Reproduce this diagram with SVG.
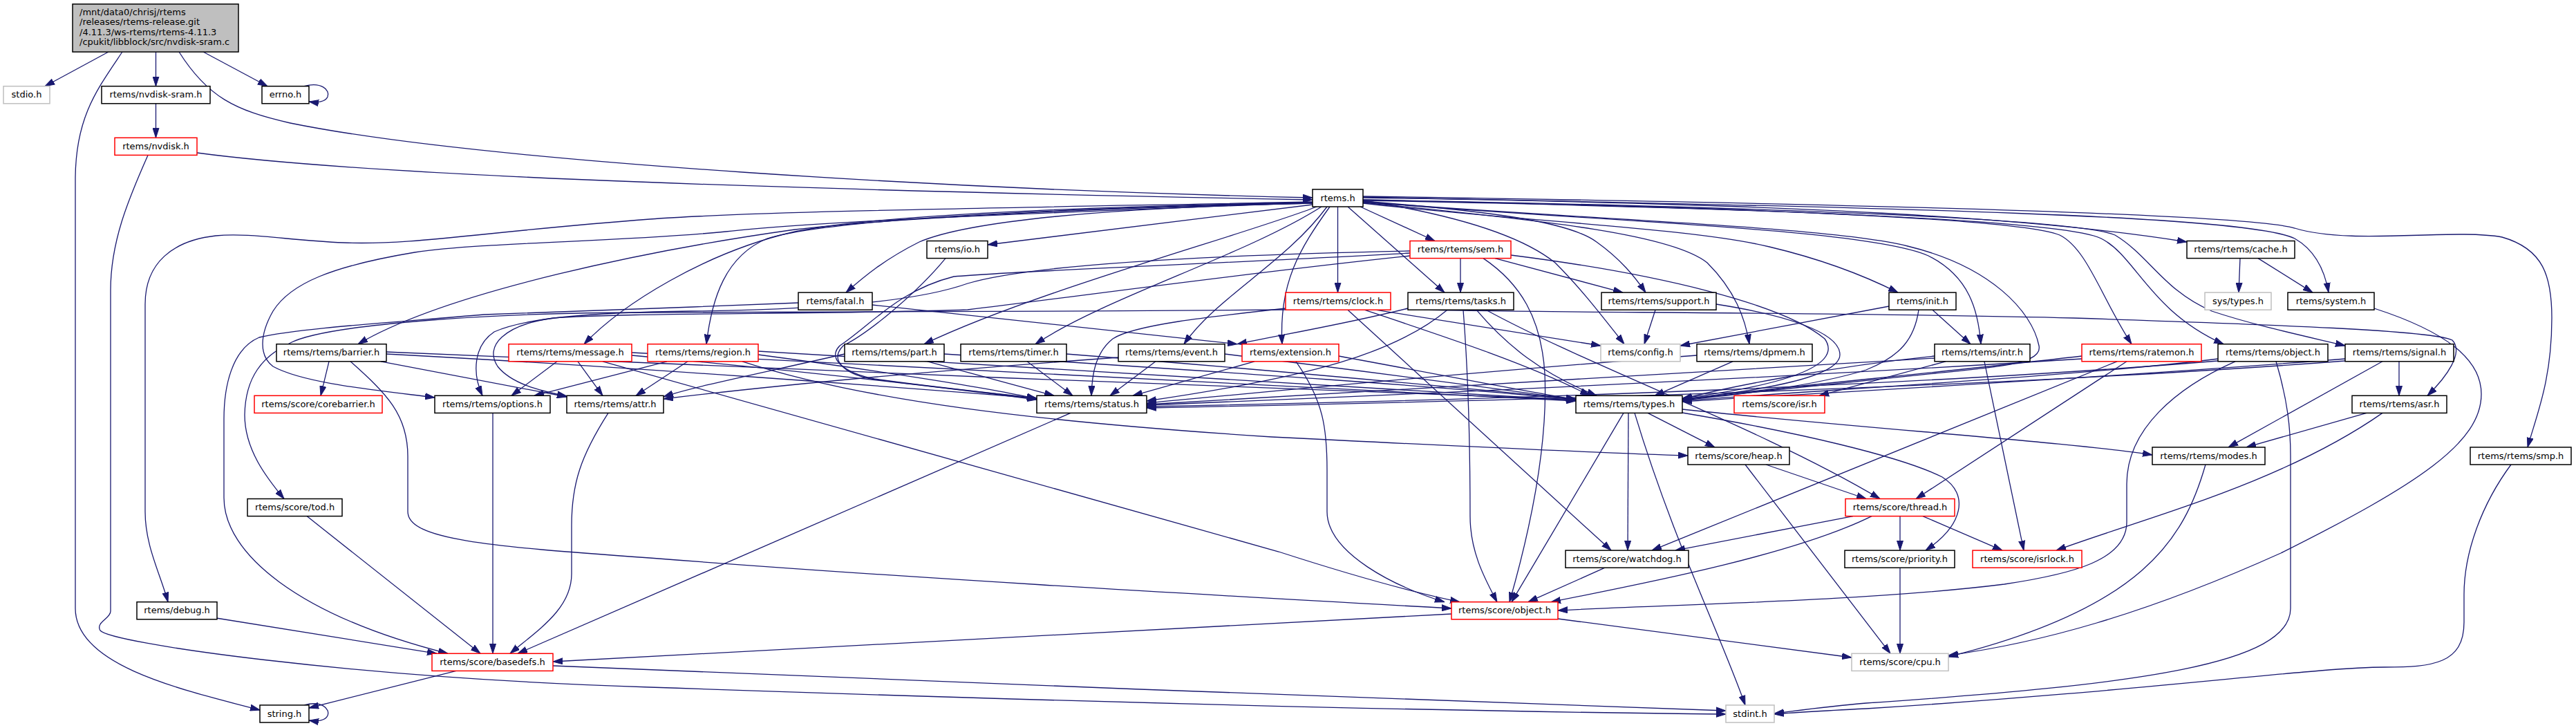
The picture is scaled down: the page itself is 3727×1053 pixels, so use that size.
<svg xmlns="http://www.w3.org/2000/svg" width="3727" height="1053" viewBox="0 0 3727 1053">
<defs>
<style>
.n rect{fill:#fff;stroke:#000;stroke-width:1.5}
.g rect{stroke:#bfbfbf}
.r rect{stroke:#ff0000}
text{font-family:"DejaVu Sans","Liberation Sans",sans-serif;font-size:13px;fill:#000;text-anchor:middle}
.e path{fill:none;stroke:#191970;stroke-width:1.3;marker-end:url(#a)}
</style>
<marker id="a" viewBox="0 0 14 10" refX="14" refY="5" markerWidth="14" markerHeight="10" markerUnits="userSpaceOnUse" orient="auto"><path d="M0,0.5 L14,5 L0,9.5 Z" fill="#191970" stroke="#191970" stroke-width="1"/></marker>
</defs>
<rect width="3727" height="1053" fill="#fff"/>
<g id="edges" class="e">
<path d="M157,75 L65,124.7"/>
<path d="M225.5,75 L225.5,124.7"/>
<path d="M294,75 L387,124.7"/>
<path d="M259,75 C300,140 340,160 420,178 C700,235 1400,275 1899,286"/>
<path d="M177,75 C140,130 109,170 109,260 L109,880 C109,960 250,995 376,1027"/>
<path d="M440,124.7 C465,118 478,130 474,140 C471,147 460,149 447,147"/>
<path d="M225.5,150 L225.5,199.3"/>
<path d="M285,221 C500,250 1000,272 1899,289"/>
<path d="M214,224.4 C185,290 160,350 160,420 L160,884 C160,895 138,900 145,912 C160,930 500,980 940,994 C1400,1010 2000,1028 2497,1033"/>
<path d="M1899,292 C1500,300 1100,305 940,317 C700,335 600,355 497,351 C420,348 360,336 312,341 C250,348 210,380 210,440 L210,740 C210,790 232,830 243,870.7"/>
<path d="M1899,293 C1600,305 1200,318 1050,335 C900,350 700,350 600,365 C480,385 420,410 395,450 C375,485 375,515 395,530 C440,555 550,565 629,575"/>
<path d="M1899,294 C1600,300 1300,315 1150,332 C950,360 650,420 518,497.7"/>
<path d="M1899,293 C1500,300 1250,315 1150,335 C1020,365 900,440 845,497.7"/>
<path d="M1899,293 C1500,302 1200,318 1110,345 C1050,370 1030,430 1022,497.7"/>
<path d="M1899,294 C1600,300 1400,320 1330,350 C1280,375 1250,400 1224,423.1"/>
<path d="M1899,296 L1429,354"/>
<path d="M1905,299 C1800,340 1500,420 1337,497.7"/>
<path d="M1912,299 C1800,370 1600,430 1498,497.7"/>
<path d="M1920,299 C1860,380 1760,430 1713,497.7"/>
<path d="M1924,299 C1880,360 1850,410 1855,497.7"/>
<path d="M1935.5,299 L1935.5,423.1"/>
<path d="M1950,299 L2090,423.1"/>
<path d="M1968,299 L2076,348.5"/>
<path d="M1972,290 C2100,310 2200,340 2250,380 C2290,420 2320,460 2350,497.7"/>
<path d="M1972,291 C2150,305 2270,320 2310,350 C2345,375 2365,400 2381,423.1"/>
<path d="M1972,293 C2250,320 2420,340 2470,380 C2510,420 2525,460 2531,497.7"/>
<path d="M1972,294 C2200,320 2450,330 2560,357 C2640,376 2700,400 2746,423.1"/>
<path d="M1972,292 C2300,320 2700,330 2790,370 C2850,400 2862,450 2866,497.7"/>
<path d="M1972,289 C2500,300 2920,315 2980,340 C3020,360 3040,430 3084,497.7"/>
<path d="M1972,290 C2600,302 2990,320 3040,345 C3090,370 3110,450 3217,497.7"/>
<path d="M1972,289 C2600,300 3010,318 3060,340 C3110,370 3130,420 3200,450 C3260,470 3330,485 3393,500"/>
<path d="M1972,286 C2600,295 2950,315 3164,350"/>
<path d="M1972,285 C2700,300 3250,310 3320,345 C3355,365 3365,400 3369,423.1"/>
<path d="M1972,284 C2700,295 3250,310 3320,330 C3400,355 3550,330 3620,343 C3680,360 3692,400 3692,460 C3692,550 3670,600 3657,646.9"/>
<path d="M1972,292 C2300,318 2650,328 2760,356 C2880,385 2940,450 2950,500 C2955,525 2900,530 2800,540 C2650,555 2500,570 2434,578"/>
<path d="M2113,373.6 L2113,423.1"/>
<path d="M2163,373.6 L2348,423.1"/>
<path d="M2146,373.6 C2200,410 2230,460 2235,540 C2240,650 2210,780 2184,870.7"/>
<path d="M2186,369 C2400,396 2580,440 2640,490 C2665,525 2600,555 2434,576"/>
<path d="M2040,363 C1800,368 1500,380 1400,410 C1330,435 1200,448 1000,450 C850,452 760,460 715,480 C685,500 683,540 698,572.3"/>
<path d="M2040,370 C1800,395 1550,430 1400,448 C1200,455 900,452 800,460 C730,470 700,500 720,530 C740,555 780,565 820,573"/>
<path d="M2040,366 C1800,380 1500,390 1380,400 C1300,420 1260,470 1215,500 C1195,520 1225,540 1265,548 C1350,560 1450,570 1500,576"/>
<path d="M1860,446 C1750,458 1640,470 1610,490 C1585,510 1580,540 1579,572.3"/>
<path d="M1860,448 C1500,451 1000,452 940,452 C700,452 470,470 420,496 C380,515 355,545 354,600 C354,650 385,690 411,721.5"/>
<path d="M1950,448.2 L2331,796.1"/>
<path d="M1974,448.2 C2100,490 2220,530 2300,572.3"/>
<path d="M1990,448.2 L2316,500"/>
<path d="M2094,448.2 C2020,510 1900,545 1659,580"/>
<path d="M2037,446 C1950,468 1850,485 1790,497.7"/>
<path d="M2117,448.2 C2125,550 2127,650 2127,747 C2127,800 2150,840 2166,870.7"/>
<path d="M2060,448.2 C2200,452 2700,452 3000,460 C3300,470 3520,478 3548,492 C3565,510 3540,545 3512,572.3"/>
<path d="M2136,448.2 C2180,500 2230,540 2310,572.3"/>
<path d="M2150,448.2 C2300,530 2550,620 2720,721.5"/>
<path d="M1155,438 C1000,445 800,450 700,455 C560,467 430,475 375,488 C335,505 324,560 324,606 L324,720 C324,800 430,890 648,945.3"/>
<path d="M2395,448.2 L2379,497.7"/>
<path d="M2483,440 C2580,455 2662,480 2662,513 C2662,545 2550,565 2434,577"/>
<path d="M2733,443 L2431,500"/>
<path d="M2796,448.2 L2851,497.7"/>
<path d="M2776,448.2 C2770,490 2750,515 2700,535 C2620,560 2500,572 2434,579"/>
<path d="M3241,373.6 L3239,423.1"/>
<path d="M3267,373.6 L3346,423.1"/>
<path d="M3435,446 C3540,480 3590,520 3590,570 C3590,640 3500,700 3300,800 C3100,890 2950,930 2819,948"/>
<path d="M1262,441 L1790,497.7"/>
<path d="M1368,373.6 C1330,420 1260,480 1220,500 C1200,520 1220,540 1260,548 C1350,560 1450,570 1500,577"/>
<path d="M476,522.8 L464,572.3"/>
<path d="M551,522.8 L820,574"/>
<path d="M507,522.8 C560,570 590,600 590,660 L590,740 C590,780 700,790 940,807 C1300,835 1700,858 2100,880"/>
<path d="M559,509 C1000,530 1800,560 2280,578"/>
<path d="M559,512 C900,530 1300,560 1500,576"/>
<path d="M806,522.8 L740,572.3"/>
<path d="M836,522.8 L872,572.3"/>
<path d="M872,522.8 L1850,798 C1980,840 2060,860 2112,870.7"/>
<path d="M914,510 C1400,535 1900,560 2280,580"/>
<path d="M914,514 C1200,540 1400,565 1500,578"/>
<path d="M965,522.8 L773,572.3"/>
<path d="M995,522.8 L920,572.3"/>
<path d="M1074,522.8 C1250,580 1500,610 1840,632 C2100,645 2300,655 2442,659"/>
<path d="M1097,508 C1600,535 2000,560 2280,579"/>
<path d="M1097,513 C1300,540 1450,565 1500,577"/>
<path d="M1342,522.8 L1525,572.3"/>
<path d="M1222,512 C1100,540 1000,560 960,574"/>
<path d="M1366,512 C1800,540 2100,560 2280,578"/>
<path d="M1486,522.8 L1552,572.3"/>
<path d="M1543,512 C1900,540 2100,560 2280,577"/>
<path d="M1672,522.8 L1606,572.3"/>
<path d="M1618,517 C1300,540 1100,560 960,577"/>
<path d="M1772,512 C2000,540 2150,560 2280,578"/>
<path d="M1815,522.8 L1639,572.3"/>
<path d="M1875,522.8 C1915,580 1920,620 1920,680 L1920,740 C1920,800 2020,850 2090,870.7"/>
<path d="M1937,515 C2100,545 2200,565 2280,578"/>
<path d="M2507,522.8 L2394,572.3"/>
<path d="M2455,514 C2100,540 1800,570 1659,583"/>
<path d="M2871,522.8 L2928,796.1"/>
<path d="M2815,522.8 L2632,572.3"/>
<path d="M2799,515 C2650,530 2500,560 2434,577"/>
<path d="M2799,518 C2400,540 2000,565 1659,585"/>
<path d="M3077,522.8 L2772,721.5"/>
<path d="M3063,522.8 L2390,796.1"/>
<path d="M3012,515 C2800,540 2550,562 2434,578"/>
<path d="M3012,519 C2600,545 2100,568 1659,586"/>
<path d="M3234,522.8 C3150,560 3077,620 3077,700 L3077,755 C3077,810 3000,830 2900,845 C2700,870 2400,875 2254,883"/>
<path d="M3293,522.8 C3310,580 3314,620 3314,660 L3314,880 C3314,960 3100,990 2700,1017 C2640,1022 2600,1028 2567,1032"/>
<path d="M3209,519 C3000,545 2600,566 2434,580"/>
<path d="M3209,522 C2800,556 2200,578 1659,588"/>
<path d="M3471,522.8 L3471,572.3"/>
<path d="M3447,522.8 L3224,646.9"/>
<path d="M3393,519 C3000,550 2600,570 2434,581"/>
<path d="M3393,522 C2900,560 2200,580 1659,590"/>
<path d="M3424,597.4 L3250,646.9"/>
<path d="M3447,597.4 C3300,700 3100,750 2975,796.1"/>
<path d="M2384,597.4 L2481,646.9"/>
<path d="M2356,597.4 L2355,796.1"/>
<path d="M2349,597.4 L2187,870.7"/>
<path d="M2365,597.4 C2420,780 2490,920 2525,1019.9"/>
<path d="M2434,592 C2700,620 3000,640 3114,658"/>
<path d="M2434,597 C2600,625 2750,660 2810,690 C2850,715 2840,760 2786,796.1"/>
<path d="M2555,672 L2700,721.5"/>
<path d="M2525,672 L2735,945.3"/>
<path d="M2681,746.6 L2424,796.1"/>
<path d="M2708,746.6 C2600,800 2400,840 2244,870.7"/>
<path d="M2749,746.6 L2749,796.1"/>
<path d="M2782,746.6 L2897,796.1"/>
<path d="M2322,821.2 L2211,870.7"/>
<path d="M2749,821.2 L2749,945.3"/>
<path d="M3191,672 C3160,780 3100,880 2819,950"/>
<path d="M3633,672 C3590,730 3565,800 3565,860 L3565,900 C3565,960 3520,965 3450,965 C3350,965 3100,1000 2700,1025 C2640,1028 2600,1030 2567,1033"/>
<path d="M2100,888 L800,957"/>
<path d="M2254,895 L2679,951"/>
<path d="M660,970.4 L447,1024"/>
<path d="M800,963 C1300,985 2000,1010 2497,1028"/>
<path d="M444,746.6 L695,945.3"/>
<path d="M313,894 L632,945.3"/>
<path d="M713,597.4 L713,945.3"/>
<path d="M880,597.4 C840,660 827,700 827,760 L827,830 C827,880 780,910 738,945.3"/>
<path d="M1549,597.4 L749,945.3"/>
<path d="M440,1019.9 C465,1013 478,1025 474,1035 C471,1042 460,1044 447,1042"/>
</g>
<g id="root" class="n"><rect x="105" y="5.9" width="240" height="69.2" style="fill:#bfbfbf"/>
<text x="115" y="21.9" style="text-anchor:start">/mnt/data0/chrisj/rtems</text>
<text x="115" y="36.3" style="text-anchor:start">/releases/rtems-release.git</text>
<text x="115" y="50.7" style="text-anchor:start">/4.11.3/ws-rtems/rtems-4.11.3</text>
<text x="115" y="65.1" style="text-anchor:start">/cpukit/libblock/src/nvdisk-sram.c</text></g>
<g id="stdio" class="n g"><rect x="5" y="124.7" width="67" height="25.1"/><text x="38.5" y="141.4">stdio.h</text></g>
<g id="nvdisk-sram" class="n"><rect x="147" y="124.7" width="157" height="25.1"/><text x="225.5" y="141.4">rtems/nvdisk-sram.h</text></g>
<g id="errno" class="n"><rect x="379" y="124.7" width="68" height="25.1"/><text x="413" y="141.4">errno.h</text></g>
<g id="nvdisk" class="n r"><rect x="166" y="199.3" width="119" height="25.1"/><text x="225.5" y="216">rtems/nvdisk.h</text></g>
<g id="rtems" class="n"><rect x="1899" y="273.9" width="73" height="25.1"/><text x="1935.5" y="290.6">rtems.h</text></g>
<g id="io" class="n"><rect x="1341" y="348.5" width="88" height="25.1"/><text x="1385" y="365.2">rtems/io.h</text></g>
<g id="sem" class="n r"><rect x="2040" y="348.5" width="146" height="25.1"/><text x="2113" y="365.2">rtems/rtems/sem.h</text></g>
<g id="cache" class="n"><rect x="3164" y="348.5" width="156" height="25.1"/><text x="3242" y="365.2">rtems/rtems/cache.h</text></g>
<g id="fatal" class="n"><rect x="1155" y="423.1" width="107" height="25.1"/><text x="1208.5" y="439.8">rtems/fatal.h</text></g>
<g id="clock" class="n r"><rect x="1860" y="423.1" width="152" height="25.1"/><text x="1936" y="439.8">rtems/rtems/clock.h</text></g>
<g id="tasks" class="n"><rect x="2037" y="423.1" width="153" height="25.1"/><text x="2113.5" y="439.8">rtems/rtems/tasks.h</text></g>
<g id="support" class="n"><rect x="2317" y="423.1" width="166" height="25.1"/><text x="2400" y="439.8">rtems/rtems/support.h</text></g>
<g id="init" class="n"><rect x="2733" y="423.1" width="97" height="25.1"/><text x="2781.5" y="439.8">rtems/init.h</text></g>
<g id="systypes" class="n g"><rect x="3190" y="423.1" width="96" height="25.1"/><text x="3238" y="439.8">sys/types.h</text></g>
<g id="system" class="n"><rect x="3310" y="423.1" width="125" height="25.1"/><text x="3372.5" y="439.8">rtems/system.h</text></g>
<g id="barrier" class="n"><rect x="400" y="497.7" width="159" height="25.1"/><text x="479.5" y="514.4">rtems/rtems/barrier.h</text></g>
<g id="message" class="n r"><rect x="736" y="497.7" width="178" height="25.1"/><text x="825" y="514.4">rtems/rtems/message.h</text></g>
<g id="region" class="n r"><rect x="937" y="497.7" width="160" height="25.1"/><text x="1017" y="514.4">rtems/rtems/region.h</text></g>
<g id="part" class="n"><rect x="1222" y="497.7" width="144" height="25.1"/><text x="1294" y="514.4">rtems/rtems/part.h</text></g>
<g id="timer" class="n"><rect x="1390" y="497.7" width="153" height="25.1"/><text x="1466.5" y="514.4">rtems/rtems/timer.h</text></g>
<g id="event" class="n"><rect x="1618" y="497.7" width="154" height="25.1"/><text x="1695" y="514.4">rtems/rtems/event.h</text></g>
<g id="extension" class="n r"><rect x="1797" y="497.7" width="140" height="25.1"/><text x="1867" y="514.4">rtems/extension.h</text></g>
<g id="config" class="n g"><rect x="2316" y="497.7" width="115" height="25.1"/><text x="2373.5" y="514.4">rtems/config.h</text></g>
<g id="dpmem" class="n"><rect x="2455" y="497.7" width="167" height="25.1"/><text x="2538.5" y="514.4">rtems/rtems/dpmem.h</text></g>
<g id="intr" class="n"><rect x="2799" y="497.7" width="138" height="25.1"/><text x="2868" y="514.4">rtems/rtems/intr.h</text></g>
<g id="ratemon" class="n r"><rect x="3012" y="497.7" width="173" height="25.1"/><text x="3098.5" y="514.4">rtems/rtems/ratemon.h</text></g>
<g id="robject" class="n"><rect x="3209" y="497.7" width="159" height="25.1"/><text x="3288.5" y="514.4">rtems/rtems/object.h</text></g>
<g id="signal" class="n"><rect x="3393" y="497.7" width="157" height="25.1"/><text x="3471.5" y="514.4">rtems/rtems/signal.h</text></g>
<g id="corebarrier" class="n r"><rect x="368" y="572.3" width="185" height="25.1"/><text x="460.5" y="589">rtems/score/corebarrier.h</text></g>
<g id="options" class="n"><rect x="629" y="572.3" width="167" height="25.1"/><text x="712.5" y="589">rtems/rtems/options.h</text></g>
<g id="attr" class="n"><rect x="820" y="572.3" width="140" height="25.1"/><text x="890" y="589">rtems/rtems/attr.h</text></g>
<g id="status" class="n"><rect x="1500" y="572.3" width="159" height="25.1"/><text x="1579.5" y="589">rtems/rtems/status.h</text></g>
<g id="types" class="n"><rect x="2280" y="572.3" width="154" height="25.1"/><text x="2357" y="589">rtems/rtems/types.h</text></g>
<g id="isr" class="n r"><rect x="2509" y="572.3" width="131" height="25.1"/><text x="2574.5" y="589">rtems/score/isr.h</text></g>
<g id="asr" class="n"><rect x="3403" y="572.3" width="137" height="25.1"/><text x="3471.5" y="589">rtems/rtems/asr.h</text></g>
<g id="heap" class="n"><rect x="2442" y="646.9" width="147" height="25.1"/><text x="2515.5" y="663.6">rtems/score/heap.h</text></g>
<g id="modes" class="n"><rect x="3114" y="646.9" width="163" height="25.1"/><text x="3195.5" y="663.6">rtems/rtems/modes.h</text></g>
<g id="smp" class="n"><rect x="3574" y="646.9" width="146" height="25.1"/><text x="3647" y="663.6">rtems/rtems/smp.h</text></g>
<g id="tod" class="n"><rect x="358" y="721.5" width="137" height="25.1"/><text x="426.5" y="738.2">rtems/score/tod.h</text></g>
<g id="thread" class="n r"><rect x="2670" y="721.5" width="158" height="25.1"/><text x="2749" y="738.2">rtems/score/thread.h</text></g>
<g id="watchdog" class="n"><rect x="2265" y="796.1" width="178" height="25.1"/><text x="2354" y="812.8">rtems/score/watchdog.h</text></g>
<g id="priority" class="n"><rect x="2669" y="796.1" width="159" height="25.1"/><text x="2748.5" y="812.8">rtems/score/priority.h</text></g>
<g id="isrlock" class="n r"><rect x="2854" y="796.1" width="158" height="25.1"/><text x="2933" y="812.8">rtems/score/isrlock.h</text></g>
<g id="debug" class="n"><rect x="198" y="870.7" width="116" height="25.1"/><text x="256" y="887.4">rtems/debug.h</text></g>
<g id="sobject" class="n r"><rect x="2100" y="870.7" width="154" height="25.1"/><text x="2177" y="887.4">rtems/score/object.h</text></g>
<g id="basedefs" class="n r"><rect x="625" y="945.3" width="175" height="25.1"/><text x="712.5" y="962">rtems/score/basedefs.h</text></g>
<g id="cpu" class="n g"><rect x="2679" y="945.3" width="140" height="25.1"/><text x="2749" y="962">rtems/score/cpu.h</text></g>
<g id="string" class="n"><rect x="376" y="1019.9" width="71" height="25.1"/><text x="411.5" y="1036.6">string.h</text></g>
<g id="stdint" class="n g"><rect x="2497" y="1019.9" width="70" height="25.1"/><text x="2532" y="1036.6">stdint.h</text></g>
</svg>
